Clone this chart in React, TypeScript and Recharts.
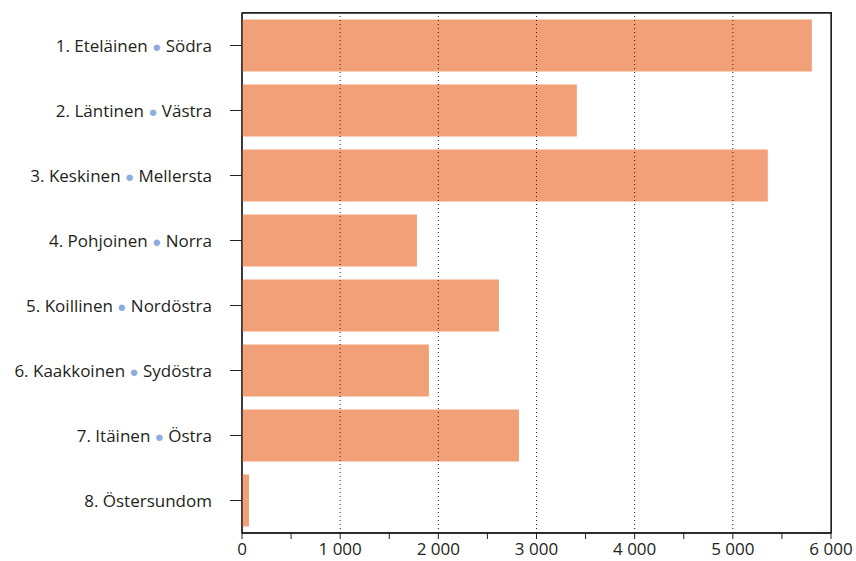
import { BarChart, Bar, XAxis, YAxis, ReferenceLine, ReferenceArea } from "recharts";

const regionsFi = [
  "1. Eteläinen",
  "2. Läntinen",
  "3. Keskinen",
  "4. Pohjoinen",
  "5. Koillinen",
  "6. Kaakkoinen",
  "7. Itäinen",
  "8. Östersundom",
];
const regionsSv = ["Södra", "Västra", "Mellersta", "Norra", "Nordöstra", "Sydöstra", "Östra", ""];
const values = [5805, 3411, 5356, 1782, 2617, 1904, 2821, 71];
const xTicks = [0, 500, 1000, 1500, 2000, 2500, 3000, 3500, 4000, 4500, 5000, 5500, 6000];
const gridLines = [1000, 2000, 3000, 4000, 5000];

const data = regionsFi.map((fi, i) => ({ fi, sv: regionsSv[i], value: values[i] }));

const FONT = "'Open Sans', 'Noto Sans', sans-serif";

const RegionTick = (props: any) => {
  const { x, y, payload } = props;
  const row = data[payload.index];
  return (
    <text x={x - 16} y={y} dy={6} textAnchor="end" fontFamily={FONT} fontSize={17} fill="#231f20">
      {row.sv ? (
        <>
          <tspan>{row.fi} </tspan>
          <tspan fill="#8eaddf" fontSize={15}>●</tspan>
          <tspan> {row.sv}</tspan>
        </>
      ) : (
        <tspan>{row.fi}</tspan>
      )}
    </text>
  );
};

const fmt = (v: number) =>
  v % 1000 === 0 ? (v === 0 ? "0" : `${v / 1000} 000`) : "";

export default function App() {
  return (
    <div style={{ position: "absolute", left: 0, top: 0, width: 856, height: 561 }}>
      <BarChart
        width={856}
        height={561}
        data={data}
        layout="vertical"
        barCategoryGap="10%"
        margin={{ top: 13, right: 25, left: 0, bottom: 0 }}
      >
        <XAxis
          type="number"
          domain={[0, 6000]}
          ticks={xTicks}
          tickFormatter={fmt}
          height={28}
          tickSize={6}
          tickMargin={4}
          tickLine={{ stroke: "#231f20" }}
          axisLine={{ stroke: "#231f20", strokeWidth: 1.3 }}
          tick={{ fontSize: 17, fontFamily: FONT, fill: "#231f20" }}
          interval={0}
        />
        <YAxis
          type="category"
          dataKey="fi"
          width={242}
          tickSize={12}
          tickLine={{ stroke: "#231f20" }}
          axisLine={{ stroke: "#231f20", strokeWidth: 1.3 }}
          tick={<RegionTick />}
          interval={0}
        />
        <ReferenceArea x1={0} x2={6000} fill="none" stroke="#231f20" strokeWidth={1.3} />
        {gridLines.map((g) => (
          <ReferenceLine key={g} x={g} stroke="#231f20" strokeDasharray="1 3" />
        ))}
        <Bar dataKey="value" fill="#f2a077" isAnimationActive={false} />
      </BarChart>
      {/* top and right edge of the plot frame */}
      <div
        style={{
          position: "absolute",
          left: 242,
          top: 12,
          width: 590,
          height: 521,
          boxSizing: "border-box",
          borderTop: "1.3px solid #231f20",
          borderRight: "1.3px solid #231f20",
          pointerEvents: "none",
        }}
      />
    </div>
  );
}
